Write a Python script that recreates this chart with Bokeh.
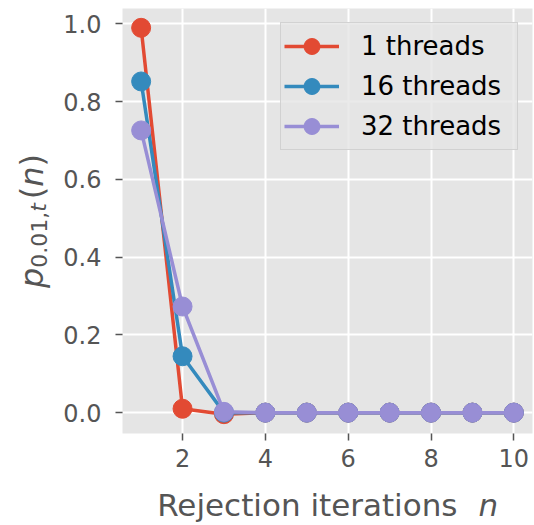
import numpy as np
from bokeh.plotting import figure
from bokeh.layouts import gridplot
from bokeh.models import Label, FixedTicker, PrintfTickFormatter, Range1d
from bokeh.embed import file_html
from bokeh.resources import INLINE

# rejection iteration index
iterations = [1, 2, 3, 4, 5, 6, 7, 8, 9, 10]

# p_{0.01,t}(n) per thread count
p_1_thread = [0.99, 0.01, -0.004, 0.0, 0.0, 0.0, 0.0, 0.0, 0.0, 0.0]
p_16_threads = [0.852, 0.145, 0.0, 0.0, 0.0, 0.0, 0.0, 0.0, 0.0, 0.0]
p_32_threads = [0.726, 0.273, 0.002, 0.0, 0.0, 0.0, 0.0, 0.0, 0.0, 0.0]

series_labels = ["1 threads", "16 threads", "32 threads"]
x_ticks = [2, 4, 6, 8, 10]
y_ticks = [0.0, 0.2, 0.4, 0.6, 0.8, 1.0]

colors = ["#E24A33", "#348ABD", "#988ED5"]
FONT = "DejaVu Sans"
GREY = "#555555"

series = [p_1_thread, p_16_threads, p_32_threads]

# page layout (pixels)
W = 534
YLAB_W = 60          # strip holding the rotated y title
XLAB_H = 44          # strip holding the x title
FW, FH = 410, 425    # plotting frame
TOP = 8
LEFT = 122 - YLAB_W
RIGHT = W - 122 - FW
BOTTOM = 45


def padded(lo, hi, frac=0.05):
    span = hi - lo
    return lo - frac * span, hi + frac * span


def no_title_gap(fig):
    fig.title.standoff = 0
    fig.title.offset = 0
    fig.title.text_font_size = "0px"


x_lo, x_hi = padded(min(iterations), max(iterations))
all_y = [v for s in series for v in s]
y_lo, y_hi = padded(min(all_y), max(all_y))

p = figure(
    frame_width=FW, frame_height=FH,
    min_border_left=LEFT, min_border_right=RIGHT,
    min_border_top=TOP, min_border_bottom=BOTTOM,
    x_range=Range1d(x_lo, x_hi), y_range=Range1d(y_lo, y_hi),
    output_backend="svg", toolbar_location=None,
)
no_title_gap(p)
p.background_fill_color = "#E5E5E5"
p.border_fill_color = "white"
p.outline_line_color = None

for g in (p.xgrid, p.ygrid):
    g.grid_line_color = "white"
    g.grid_line_width = 2

for ax in (p.xaxis, p.yaxis):
    ax.axis_line_color = None
    ax.major_tick_line_color = GREY
    ax.major_tick_line_width = 1.5
    ax.major_tick_out = 7
    ax.major_tick_in = 0
    ax.minor_tick_line_color = None
    ax.major_label_text_font = FONT
    ax.major_label_text_font_size = "24px"
    ax.major_label_text_color = GREY

p.xaxis.ticker = FixedTicker(ticks=x_ticks)
p.yaxis.ticker = FixedTicker(ticks=y_ticks)
p.yaxis.formatter = PrintfTickFormatter(format="%.1f")
p.xaxis.major_label_standoff = 8
p.yaxis.major_label_standoff = 14

for vals, col, lab in zip(series, colors, series_labels):
    p.line(iterations, vals, line_color=col, line_width=3.5, legend_label=lab)
    p.scatter(iterations, vals, marker="circle", size=19, fill_color=col,
              line_color=col, legend_label=lab)

leg = p.legend[0]
leg.location = "top_right"
leg.margin = 14
leg.padding = 3
leg.spacing = 0
leg.glyph_width = 55
leg.glyph_height = 40
leg.label_standoff = 22
leg.label_width = 153
leg.label_text_font = FONT
leg.label_text_font_size = "26px"
leg.label_text_color = "black"
leg.background_fill_color = "#E5E5E5"
leg.background_fill_alpha = 0.8
leg.border_line_color = "#CCCCCC"
leg.border_line_alpha = 0.8


def text_strip(fw, fh, left=0, right=0, top=0, bottom=0):
    f = figure(frame_width=fw, frame_height=fh, x_range=Range1d(0, fw),
               y_range=Range1d(0, fh), x_axis_type=None, y_axis_type=None,
               min_border_left=left, min_border_right=right,
               min_border_top=top, min_border_bottom=bottom,
               output_backend="svg", toolbar_location=None)
    no_title_gap(f)
    f.grid.visible = False
    f.outline_line_color = None
    f.background_fill_color = "white"
    f.border_fill_color = "white"
    return f


# DejaVu Sans advance widths (em) for the characters of the y title
ADV = {"t": .392, "n": .634, "0": .636, "1": .636, ".": .318, ",": .318,
       "(": .390, ")": .390, "p": .635}


def text_width(s, size):
    return sum(ADV[ch] for ch in s) * size


def add_piece(fig, text, x, y, size, italic, angle=0.0, align="left"):
    fig.add_layout(Label(
        x=x, y=y, x_units="screen", y_units="screen", text=text,
        angle=angle, text_font=FONT, text_font_size=f"{size}px",
        text_font_style="italic" if italic else "normal",
        text_color=GREY, text_align=align, text_baseline="alphabetic",
    ))


# x title: "Rejection iterations n" with italic n, centred under the frame
xfig = text_strip(FW, XLAB_H, left=LEFT, right=RIGHT)
XS = 31
XBASE = 18
mid = FW / 2
add_piece(xfig, "Rejection iterations", mid + 130, XBASE, XS, False, align="right")
add_piece(xfig, "n", mid + 151, XBASE, XS, True)

# y title: p_{0.01,t}(n), rotated, centred beside the frame
yfig = text_strip(YLAB_W, FH, top=TOP, bottom=BOTTOM)
YS, SS = 32, 22
y_parts = [("p", YS, True, 0, 0), ("0.01,", SS, False, 7, 0), ("t", SS, True, 7, 4),
           ("(", YS, False, 0, 0), ("n", YS, True, 0, 0), (")", YS, False, 0, 0)]
total = sum(text_width(t, s) + gap for t, s, _, _, gap in y_parts)
cy = FH / 2 - total / 2
for t, s, it, drop, gap in y_parts:
    add_piece(yfig, t, 31 + drop, cy, s, it, angle=np.pi / 2)
    cy += text_width(t, s) + gap

layout = gridplot([[yfig, p], [None, xfig]], toolbar_location=None)
open("out.html", "w").write(file_html(layout, INLINE))
